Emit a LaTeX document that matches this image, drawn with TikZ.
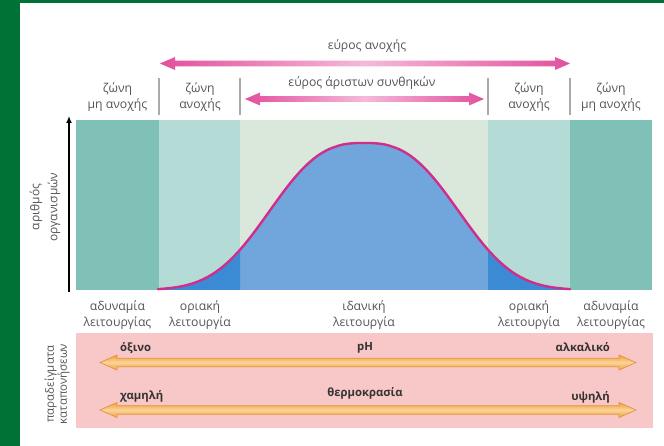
\documentclass[tikz,border=0pt]{standalone}
\usepackage{fontspec}
\setmainfont{Open Sans}
\usetikzlibrary{arrows.meta}
\definecolor{frameg}{RGB}{0,114,54}
\definecolor{tealD}{RGB}{128,193,183}
\definecolor{tealL}{RGB}{181,219,214}
\definecolor{paleG}{RGB}{218,232,219}
\definecolor{blueL}{RGB}{112,166,219}
\definecolor{blueD}{RGB}{58,139,212}
\definecolor{curveM}{RGB}{208,45,140}
\definecolor{pinkD}{RGB}{226,80,158}
\definecolor{pinkL}{RGB}{245,185,216}
\definecolor{boxP}{RGB}{248,199,200}
\definecolor{orA}{RGB}{242,160,70}
\definecolor{orL}{RGB}{250,212,150}
\definecolor{orE}{RGB}{230,145,60}
\definecolor{txt}{RGB}{85,85,85}
\definecolor{sepG}{RGB}{170,170,170}
\tikzset{
  lbl/.style={text=txt, align=center, font=\fontsize{12.2}{16}\selectfont, inner sep=0pt},
  vlbl/.style={lbl, rotate=90},
  boldlbl/.style={text=black!80, font=\bfseries\fontsize{11.3}{13}\selectfont, inner sep=0pt},
  sepline/.style={draw=sepG, line width=1.2pt},
}
\newcommand\pinkarr[3]{%
  \shade[left color=pinkD,right color=pinkD,middle color=pinkL]
  (#1,#3) -- ({#1+15},{#3-6.5}) -- ({#1+15},{#3-2.8}) -- ({#2-15},{#3-2.8}) -- ({#2-15},{#3-6.5}) -- (#2,#3)
  -- ({#2-15},{#3+6.5}) -- ({#2-15},{#3+2.8}) -- ({#1+15},{#3+2.8}) -- ({#1+15},{#3+6.5}) -- cycle;}
\newcommand\orarr[3]{%
  \shade[top color=orA,bottom color=orA,middle color=orL,draw=orE,line width=0.7pt]
  (#1,#3) -- ({#1+17},{#3-7.5}) -- ({#1+17},{#3-4.3}) -- ({#2-17},{#3-4.3}) -- ({#2-17},{#3-7.5}) -- (#2,#3)
  -- ({#2-17},{#3+7.5}) -- ({#2-17},{#3+4.3}) -- ({#1+17},{#3+4.3}) -- ({#1+17},{#3+7.5}) -- cycle;}
\begin{document}
\begin{tikzpicture}[x=1pt,y=-1pt,
  declare function={bell(\t)=290-147*exp(-5.1*((abs(\t-364)/206+0.0001)^2.7));}]
\useasboundingbox (0,0) rectangle (664,446);
\fill[white] (0,0) rectangle (664,446);
% green frame
\fill[frameg] (0,0) rectangle (20,446);
\fill[frameg] (0,0) rectangle (664,3);
% zones
\fill[tealD] (76,120) rectangle (159,290);
\fill[tealL] (159,120) rectangle (240,290);
\fill[paleG] (240,120) rectangle (488,290);
\fill[tealL] (488,120) rectangle (570,290);
\fill[tealD] (570,120) rectangle (652,290);
% curve fill
\fill[blueL] (158,290) -- plot[domain=158:570,samples=121] (\x,{bell(\x)}) -- (570,290) -- cycle;
\begin{scope}
  \clip (150,100) rectangle (240,300) (488,100) rectangle (580,300);
  \fill[blueD] (158,290) -- plot[domain=158:570,samples=121] (\x,{bell(\x)}) -- (570,290) -- cycle;
\end{scope}
\draw[curveM, line width=2.4pt, line cap=round] plot[domain=158:570,samples=121] (\x,{bell(\x)});
% y axis
\coordinate (ya0) at (69,292);
\coordinate (ya1) at (69,116);
\draw[line width=1.6pt, -{Latex[length=7pt,width=6pt]}] (ya0) -- (ya1);
\node[vlbl, font=\fontsize{12}{18}\selectfont] (ylab) at (45,207) {αριθμός\\οργανισμών};
% separators
\coordinate (s1a) at (159,78); \coordinate (s1b) at (159,115);
\coordinate (s2a) at (240,78); \coordinate (s2b) at (240,115);
\coordinate (s3a) at (488,78); \coordinate (s3b) at (488,115);
\coordinate (s4a) at (570,78); \coordinate (s4b) at (570,115);
\draw[sepline] (s1a) -- (s1b);
\draw[sepline] (s2a) -- (s2b);
\draw[sepline] (s3a) -- (s3b);
\draw[sepline] (s4a) -- (s4b);
% top labels
\node[lbl] (z1) at (117.5,97) {ζώνη\\μη ανοχής};
\node[lbl] (z2) at (200,97) {ζώνη\\ανοχής};
\node[lbl] (z3) at (529,97) {ζώνη\\ανοχής};
\node[lbl] (z4) at (611,97) {ζώνη\\μη ανοχής};
% pink arrows
\pinkarr{160}{570}{63.5}
\pinkarr{245}{484}{99}
\node[lbl] (er1) at (367,46) {εύρος ανοχής};
\node[lbl] (er2) at (362,83) {εύρος άριστων συνθηκών};
% bottom labels
\node[lbl] (b1) at (117.5,315) {αδυναμία\\λειτουργίας};
\node[lbl] (b2) at (200,315) {οριακή\\λειτουργία};
\node[lbl] (b3) at (364,315) {ιδανική\\λειτουργία};
\node[lbl] (b4) at (529,315) {οριακή\\λειτουργία};
\node[lbl] (b5) at (611,315) {αδυναμία\\λειτουργίας};
% stress box
\fill[boxP] (76,333) rectangle (653,428);
\node[vlbl, font=\fontsize{11.5}{13}\selectfont] (plab) at (57,384) {παραδείγματα\\καταπονήσεων};
\orarr{100}{636}{362.5}
\orarr{100}{636}{410}
\node[boldlbl, anchor=west] (ox) at (120,348) {όξινο};
\node[boldlbl] (ph) at (365,348) {pH};
\node[boldlbl, anchor=east] (al) at (610,347) {αλκαλικό};
\node[boldlbl, anchor=west] (lo) at (120,396) {χαμηλή};
\node[boldlbl] (th) at (365,393) {θερμοκρασία};
\node[boldlbl, anchor=east] (hi) at (610,397) {υψηλή};
\end{tikzpicture}
\end{document}
